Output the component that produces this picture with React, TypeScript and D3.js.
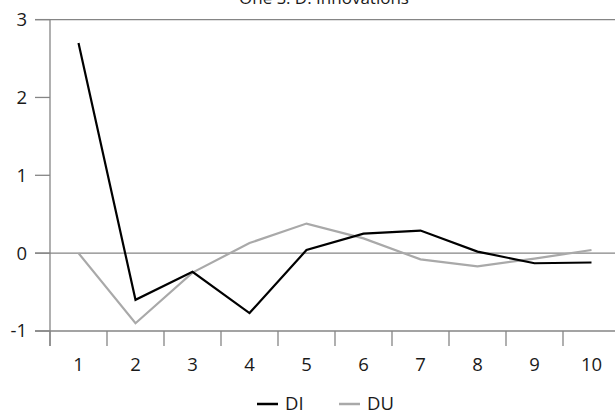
import React, { useEffect, useRef } from 'react';
import * as d3 from 'd3';

const title = 'One S. D. Innovations';
const periods = ['1', '2', '3', '4', '5', '6', '7', '8', '9', '10'];
const diValues = [2.7, -0.6, -0.24, -0.77, 0.04, 0.25, 0.29, 0.02, -0.13, -0.12];
const duValues = [0, -0.9, -0.25, 0.13, 0.38, 0.19, -0.08, -0.17, -0.07, 0.04];
const yTicks = [-1, 0, 1, 2, 3];

const App = () => {
    const ref = useRef<SVGSVGElement>(null);

    useEffect(() => {
        const svg = d3.select(ref.current);
        svg.selectAll('*').remove();

        const left = 50;
        const right = 620;
        const top = 19.6;
        const bottom = 331;
        const font = '"Open Sans", "DejaVu Sans", sans-serif';
        const axisColor = '#858585';
        const textColor = '#1a1a1a';

        const x = d3.scaleBand<string>().domain(periods).range([left, right]);
        const y = d3.scaleLinear().domain([-1, 3]).range([bottom, top]);

        svg.append('text')
            .attr('x', 324)
            .attr('y', 4)
            .attr('text-anchor', 'middle')
            .style('font-family', font)
            .style('font-size', '17px')
            .style('fill', textColor)
            .text(title);

        // horizontal lines at top and at zero
        [3, 0].forEach(v => {
            svg.append('line')
                .attr('x1', 35).attr('x2', right)
                .attr('y1', y(v)).attr('y2', y(v))
                .attr('stroke', axisColor).attr('stroke-width', 1.3);
        });

        // y axis
        const yAxis = svg.append('g');
        yAxis.append('line')
            .attr('x1', left).attr('x2', left)
            .attr('y1', top).attr('y2', bottom + 15)
            .attr('stroke', axisColor).attr('stroke-width', 1.3);
        yTicks.forEach(v => {
            yAxis.append('line')
                .attr('x1', 35).attr('x2', left)
                .attr('y1', y(v)).attr('y2', y(v))
                .attr('stroke', axisColor).attr('stroke-width', 1.3);
            yAxis.append('text')
                .attr('x', 27)
                .attr('y', y(v))
                .attr('dy', '0.35em')
                .attr('text-anchor', 'end')
                .style('font-family', font)
                .style('font-size', '18.5px')
                .style('fill', textColor)
                .text(v);
        });

        // x axis
        const xAxis = svg.append('g');
        xAxis.append('line')
            .attr('x1', 35).attr('x2', right)
            .attr('y1', bottom).attr('y2', bottom)
            .attr('stroke', axisColor).attr('stroke-width', 1.3);
        periods.forEach(p => {
            xAxis.append('line')
                .attr('x1', x(p)!).attr('x2', x(p)!)
                .attr('y1', bottom).attr('y2', bottom + 15)
                .attr('stroke', axisColor).attr('stroke-width', 1.3);
            xAxis.append('text')
                .attr('x', x(p)! + x.bandwidth() / 2)
                .attr('y', 371)
                .attr('text-anchor', 'middle')
                .style('font-family', font)
                .style('font-size', '18.5px')
                .style('fill', textColor)
                .text(p);
        });

        const line = d3.line<number>()
            .x((d, i) => x(periods[i])! + x.bandwidth() / 2)
            .y(d => y(d));

        svg.append('path')
            .datum(duValues)
            .attr('d', line)
            .attr('fill', 'none')
            .attr('stroke', '#a9a9a9')
            .attr('stroke-width', 2.2);

        svg.append('path')
            .datum(diValues)
            .attr('d', line)
            .attr('fill', 'none')
            .attr('stroke', '#000')
            .attr('stroke-width', 2.2);

        // legend
        const legend = [
            { name: 'DI', color: '#000', x: 257 },
            { name: 'DU', color: '#a9a9a9', x: 339 },
        ];
        legend.forEach(l => {
            svg.append('line')
                .attr('x1', l.x).attr('x2', l.x + 21)
                .attr('y1', 404).attr('y2', 404)
                .attr('stroke', l.color).attr('stroke-width', 2.5);
            svg.append('text')
                .attr('x', l.x + 28)
                .attr('y', 404)
                .attr('dy', '0.35em')
                .style('font-family', font)
                .style('font-size', '18.5px')
                .style('fill', textColor)
                .text(l.name);
        });
    }, []);

    return (
        <svg ref={ref} width={615} height={417}
            style={{ position: 'absolute', left: 0, top: 0, background: '#fff' }}></svg>
    );
};

export default App;
